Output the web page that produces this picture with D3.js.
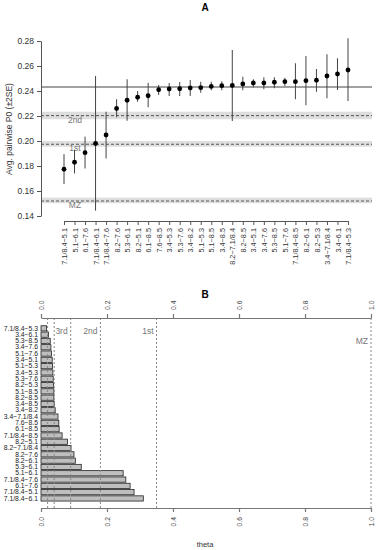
<!DOCTYPE html>
<html>
<head>
<meta charset="utf-8">
<script src="https://cdn.jsdelivr.net/npm/d3@7"></script>
<style>
  body { margin: 0; background: #fff; }
  svg { font-family: "Liberation Sans", Arial, sans-serif; display: block; }
</style>
</head>
<body>
<svg id="chart" width="380" height="550"></svg>
<script>
// Panel A: avg pairwise P0 per pair of groups
const pairsA = ["7.1/8.4−5.1", "5.1−6.1", "6.1−7.6", "7.1/8.4−6.1", "7.1/8.4−7.6", "8.2−7.6", "5.3−6.1",
  "8.2−5.1", "6.1−8.5", "7.6−8.5", "3.4−5.3", "5.3−7.6", "3.4−8.2", "5.1−5.3", "5.1−8.5", "3.4−8.5",
  "8.2−7.1/8.4", "8.2−8.5", "3.4−5.1", "3.4−7.6", "5.3−8.5", "5.1−7.6", "7.1/8.4−8.5", "8.2−6.1",
  "8.2−5.3", "3.4−7.1/8.4", "3.4−6.1", "7.1/8.4−5.3"];
const meanA = [0.1774, 0.183, 0.1907, 0.198, 0.2048, 0.226, 0.2326, 0.235, 0.2362, 0.241, 0.2416, 0.2418,
  0.2424, 0.2427, 0.2437, 0.2443, 0.2445, 0.2456, 0.2464, 0.2464, 0.247, 0.2475, 0.2475, 0.2483, 0.2486,
  0.252, 0.2536, 0.2568];
const lowA = [0.1655, 0.174, 0.178, 0.1443, 0.186, 0.219, 0.2162, 0.2314, 0.227, 0.2368, 0.236, 0.236,
  0.236, 0.2386, 0.2406, 0.2406, 0.216, 0.2406, 0.243, 0.2414, 0.2422, 0.2438, 0.2334, 0.2286, 0.2394,
  0.2342, 0.2408, 0.232];
const highA = [0.1895, 0.193, 0.2035, 0.252, 0.2234, 0.2334, 0.2494, 0.240, 0.2466, 0.2448, 0.2464, 0.2472,
  0.2488, 0.2474, 0.2474, 0.2478, 0.2728, 0.2514, 0.2494, 0.251, 0.251, 0.2506, 0.2622, 0.268, 0.2576,
  0.2694, 0.2662, 0.2822];
const overallMean = 0.2432;
const refLabels = ["2nd", "1st", "MZ"];
const refLevels = [0.2203, 0.1974, 0.152];
const refLow = [0.2174, 0.1954, 0.1502];
const refHigh = [0.2234, 0.200, 0.1547];
const yTicksA = [0.14, 0.16, 0.18, 0.20, 0.22, 0.24, 0.26, 0.28];

// Panel B: theta per pair
const pairsB = ["7.1/8.4−5.3", "3.4−6.1", "5.3−8.5", "3.4−7.6", "5.1−7.6", "3.4−5.1", "5.1−5.3", "3.4−5.3",
  "5.3−7.6", "8.2−5.3", "5.1−8.5", "8.2−8.5", "3.4−8.5", "3.4−8.2", "3.4−7.1/8.4", "7.6−8.5", "6.1−8.5",
  "7.1/8.4−8.5", "8.2−5.1", "8.2−7.1/8.4", "8.2−7.6", "8.2−6.1", "5.3−6.1", "5.1−6.1", "7.1/8.4−7.6",
  "6.1−7.6", "7.1/8.4−5.1", "7.1/8.4−6.1"];
const thetaB = [0.017, 0.023, 0.028, 0.030, 0.032, 0.034, 0.035, 0.036, 0.037, 0.038, 0.039, 0.039, 0.040,
  0.043, 0.0515, 0.054, 0.055, 0.064, 0.080, 0.091, 0.100, 0.104, 0.122, 0.249, 0.257, 0.270, 0.282, 0.310];
const thetaCuts = [0.02, 0.04, 0.09, 0.18, 0.35, 1.0];
const thetaCutLabels = ["", "", "3rd", "2nd", "1st", "MZ"];
const xTicksB = [0, 0.2, 0.4, 0.6, 0.8, 1.0];

const svg = d3.select("#chart");

// ---------- Panel A ----------
const yA = d3.scaleLinear().domain([0.14, 0.28]).range([216, 41]);
const xA = d3.scalePoint().domain(pairsA).range([64, 348]);
const left = 41, right = 372;

const gA = svg.append("g");

// reference bands + dashed lines
refLevels.forEach((v, i) => {
  gA.append("rect")
    .attr("x", left).attr("width", right - left)
    .attr("y", yA(refHigh[i])).attr("height", yA(refLow[i]) - yA(refHigh[i]))
    .attr("fill", "#dedede");
  gA.append("line")
    .attr("x1", left).attr("x2", right)
    .attr("y1", yA(v)).attr("y2", yA(v))
    .attr("stroke", "#555").attr("stroke-dasharray", "3,2");
  gA.append("text")
    .attr("x", 75).attr("y", yA(v) + 7)
    .attr("text-anchor", "middle")
    .attr("font-size", 8.5).attr("fill", "#777")
    .text(refLabels[i]);
});

gA.append("line")
  .attr("x1", left).attr("x2", right)
  .attr("y1", yA(overallMean)).attr("y2", yA(overallMean))
  .attr("stroke", "#444");

// error bars + points
pairsA.forEach((p, i) => {
  gA.append("line")
    .attr("x1", xA(p)).attr("x2", xA(p))
    .attr("y1", yA(lowA[i])).attr("y2", yA(highA[i]))
    .attr("stroke", "#444").attr("stroke-width", 1);
});
gA.selectAll("circle.pt")
  .data(pairsA)
  .enter().append("circle")
  .attr("class", "pt")
  .attr("cx", d => xA(d))
  .attr("cy", (d, i) => yA(meanA[i]))
  .attr("r", 2.4)
  .attr("fill", "#000");

// axes
const yAxisA = gA.append("g")
  .attr("transform", `translate(${left},0)`)
  .call(d3.axisLeft(yA).tickValues(yTicksA).tickFormat(d3.format(".2f")).tickSize(4).tickSizeOuter(0));
yAxisA.selectAll("text").attr("font-size", 8.5).attr("fill", "#333").attr("x", -7);

const xAxisA = gA.append("g")
  .attr("transform", "translate(0,221)")
  .call(d3.axisBottom(xA).tickSize(4).tickSizeOuter(0));
xAxisA.selectAll("text")
  .attr("font-size", 7.3).attr("fill", "#333")
  .attr("transform", "rotate(-90)")
  .attr("text-anchor", "end")
  .attr("x", -7).attr("y", 0).attr("dy", "0.35em");

[yAxisA, xAxisA].forEach(a => {
  a.selectAll("path, line").attr("stroke", "#555");
  a.attr("font-family", null);
});

gA.append("text")
  .attr("transform", "translate(12,129) rotate(-90)")
  .attr("text-anchor", "middle")
  .attr("font-size", 8.5).attr("fill", "#333")
  .text("Avg. pairwise P0 (±2SE)");

svg.append("text")
  .attr("x", 205).attr("y", 11)
  .attr("text-anchor", "middle")
  .attr("font-size", 10).attr("font-weight", "bold")
  .text("A");

// ---------- Panel B ----------
const xB = d3.scaleLinear().domain([0, 1]).range([41, 371]);
const yB = d3.scaleBand().domain(pairsB).range([325.2, 501.6]).paddingInner(0.17).paddingOuter(0.085);
const topB = 318, botB = 508;

const gB = svg.append("g");

gB.selectAll("rect.bar")
  .data(pairsB)
  .enter().append("rect")
  .attr("class", "bar")
  .attr("x", xB(0))
  .attr("y", d => yB(d))
  .attr("width", (d, i) => xB(thetaB[i]) - xB(0))
  .attr("height", yB.bandwidth())
  .attr("fill", "#bebebe")
  .attr("stroke", "#222").attr("stroke-width", 0.8);

thetaCuts.forEach((v, i) => {
  gB.append("line")
    .attr("x1", xB(v)).attr("x2", xB(v))
    .attr("y1", topB).attr("y2", botB)
    .attr("stroke", "#888").attr("stroke-dasharray", "2,2");
  if (thetaCutLabels[i]) {
    gB.append("text")
      .attr("x", xB(v) - 3)
      .attr("y", v === 1.0 ? 344 : 334)
      .attr("text-anchor", "end")
      .attr("font-size", 8.5).attr("fill", "#777")
      .text(thetaCutLabels[i]);
  }
});

const yAxisB = gB.append("g")
  .attr("transform", `translate(${xB(0)},0)`)
  .call(d3.axisLeft(yB).tickSize(0));
yAxisB.select("path").remove();
yAxisB.selectAll("text").attr("font-size", 6.8).attr("fill", "#222").attr("x", -3);

const topAxisB = gB.append("g")
  .attr("transform", `translate(0,${topB})`)
  .call(d3.axisTop(xB).tickValues(xTicksB).tickFormat(d3.format(".1f")).tickSize(4).tickSizeOuter(0));
topAxisB.selectAll("text")
  .attr("font-size", 6.8).attr("fill", "#444")
  .attr("transform", "rotate(-90)")
  .attr("text-anchor", "start")
  .attr("x", 8).attr("y", 0).attr("dy", "0.35em");

const botAxisB = gB.append("g")
  .attr("transform", `translate(0,${botB})`)
  .call(d3.axisBottom(xB).tickValues(xTicksB).tickFormat(d3.format(".1f")).tickSize(4).tickSizeOuter(0));
botAxisB.selectAll("text")
  .attr("font-size", 6.8).attr("fill", "#444")
  .attr("transform", "rotate(-90)")
  .attr("text-anchor", "end")
  .attr("x", -9).attr("y", 0).attr("dy", "0.35em");

[topAxisB, botAxisB, yAxisB].forEach(a => {
  a.selectAll("path, line").attr("stroke", "#777").attr("stroke-width", 1.2);
  a.attr("font-family", null);
});

svg.append("text")
  .attr("x", 205).attr("y", 298)
  .attr("text-anchor", "middle")
  .attr("font-size", 10).attr("font-weight", "bold")
  .text("B");

svg.append("text")
  .attr("x", 205).attr("y", 547)
  .attr("text-anchor", "middle")
  .attr("font-size", 7.5).attr("fill", "#333")
  .text("theta");
</script>
</body>
</html>
